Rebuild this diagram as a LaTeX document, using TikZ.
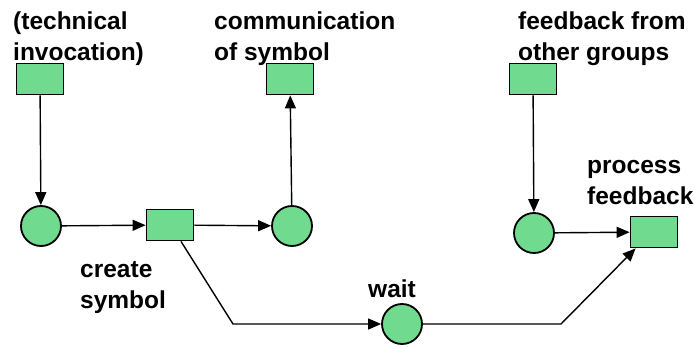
\documentclass[tikz,border=0pt]{standalone}
\usepackage{fontspec}
\setmainfont{Liberation Sans}
\usetikzlibrary{arrows.meta}
\definecolor{netgreen}{RGB}{112,219,143}
\begin{document}
\begin{tikzpicture}[x=1pt,y=-1pt,
  place/.style={circle,draw=black,line width=1.8pt,fill=netgreen,minimum size=40pt,inner sep=0pt},
  trans/.style={rectangle,draw=black,line width=1.8pt,fill=netgreen,minimum width=47pt,minimum height=31pt,inner sep=0pt},
  arr/.style={line width=1.4pt,-{Triangle[length=13pt,width=11pt]}},
  lbl/.style={anchor=base west,inner sep=0pt,align=left,font=\bfseries\fontsize{24.5}{31}\selectfont}]
\useasboundingbox (0,0) rectangle (695,347);

% labels (anchored at the baseline of their last line)
\node[lbl] (ltech) at (13,61) {(technical\\invocation)};
\node[lbl] (lcomm) at (214,61) {communication\\of symbol};
\node[lbl] (lfeed) at (518,61) {feedback from\\other groups};
\node[lbl] (lproc) at (587,205) {process\\feedback};
\node[lbl] (lcreate) at (80,308) {create\\symbol};
\node[lbl] (lwait) at (368,297) {wait};

% transitions
\node[trans] (r1) at (40,79) {};
\node[trans] (r2) at (290,79) {};
\node[trans] (r3) at (533,79) {};
\node[trans] (t1) at (170,225) {};
\node[trans] (r4) at (654,232) {};

% places
\node[place] (p1) at (41,226) {};
\node[place] (p2) at (292,226) {};
\node[place] (p3) at (402,324) {};
\node[place] (p4) at (534,233) {};

% bend points
\coordinate (b1) at (233,324);
\coordinate (b2) at (561,324);

% arcs
\draw[arr] (r1) -- (p1);
\draw[arr] (p1) -- (t1);
\draw[arr] (t1) -- (p2);
\draw[arr] (p2) -- (r2);
\draw[arr] ([xshift=11pt]t1.south) -- (b1) -- (p3);
\draw[arr] (p3) -- (b2) -- ([xshift=6pt]r4.south west);
\draw[arr] (r3) -- (p4);
\draw[arr] (p4) -- (r4);
\end{tikzpicture}
\end{document}
